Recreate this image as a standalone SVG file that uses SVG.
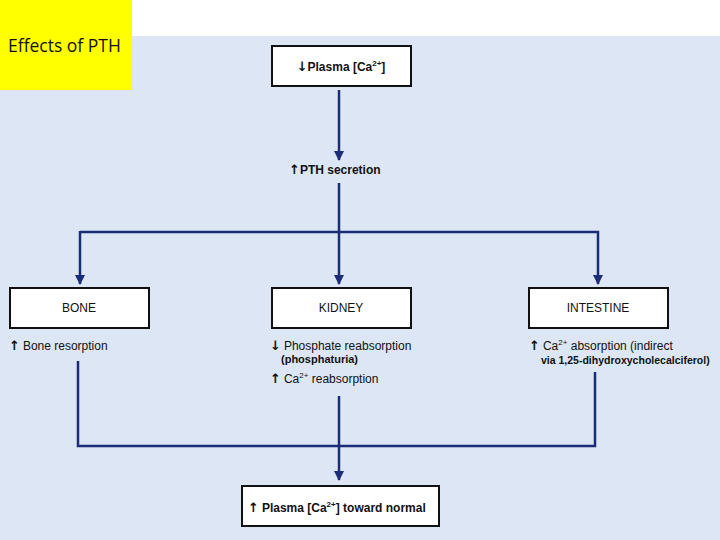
<svg xmlns="http://www.w3.org/2000/svg" width="720" height="540" viewBox="0 0 720 540">
<defs>
<style>
.box{fill:#ffffff;stroke:#111111;stroke-width:2}
.ln{fill:none;stroke:#1c2d78;stroke-width:2.5}
.t{font-family:"Liberation Sans",Arial,sans-serif;font-size:12px;fill:#111111}
.b{font-weight:bold}
.ar{font-family:"DejaVu Sans",sans-serif;font-size:13px;font-weight:bold}
.title{font-family:"Open Sans","Liberation Sans",sans-serif;font-size:17.5px;fill:#111111}
</style>
<marker id="ah" viewBox="0 0 10 10" refX="9" refY="5" markerWidth="4" markerHeight="4" orient="auto" markerUnits="strokeWidth">
<path d="M0,0 L10,5 L0,10 z" fill="#1c2d78"/>
</marker>
</defs>
<rect x="0" y="0" width="720" height="540" fill="#ffffff"/>
<rect x="0" y="36" width="720" height="504" fill="#dde6f4"/>
<g id="title">
<rect x="0" y="0" width="132" height="90" fill="#ffff00"/>
<text class="title" x="8" y="52">Effects of PTH</text>
</g>
<g id="connectors">
<line class="ln" x1="339" y1="90" x2="339" y2="160" marker-end="url(#ah)"/>
<line class="ln" x1="339" y1="183" x2="339" y2="232"/>
<polyline class="ln" points="80,232 598,232 598,284" marker-end="url(#ah)"/>
<line class="ln" x1="80" y1="231" x2="80" y2="284" marker-end="url(#ah)"/>
<line class="ln" x1="339" y1="232" x2="339" y2="284" marker-end="url(#ah)"/>
<polyline class="ln" points="78,361 78,446 595,446 595,372"/>
<line class="ln" x1="339" y1="396" x2="339" y2="480" marker-end="url(#ah)"/>
</g>
<g id="plasma-low">
<rect class="box" x="272" y="46" width="139" height="40"/>
<text class="t b" x="341" y="71" text-anchor="middle"><tspan class="ar">↓</tspan>Plasma [Ca<tspan style="font-size:8px" dy="-5">2+</tspan><tspan dy="5">]</tspan></text>
</g>
<g id="pth">
<text class="t b" x="289" y="174"><tspan class="ar">↑</tspan>PTH secretion</text>
</g>
<g id="bone">
<rect class="box" x="10" y="288" width="139" height="40"/>
<text class="t" x="79" y="312" text-anchor="middle">BONE</text>
<text class="t" x="9" y="350"><tspan class="ar">↑</tspan><tspan dx="3">Bone resorption</tspan></text>
</g>
<g id="kidney">
<rect class="box" x="272" y="288" width="139" height="40"/>
<text class="t" x="341" y="312" text-anchor="middle">KIDNEY</text>
<text class="t" x="270" y="350"><tspan class="ar">↓</tspan><tspan dx="3">Phosphate reabsorption</tspan></text>
<text class="t b" x="281" y="363" style="font-size:11px">(phosphaturia)</text>
<text class="t" x="270" y="383"><tspan class="ar">↑</tspan><tspan dx="3">Ca</tspan><tspan style="font-size:8px" dy="-5">2+</tspan><tspan dy="5"> reabsorption</tspan></text>
</g>
<g id="intestine">
<rect class="box" x="529" y="288" width="139" height="40"/>
<text class="t" x="598" y="312" text-anchor="middle">INTESTINE</text>
<text class="t" x="529" y="350"><tspan class="ar">↑</tspan><tspan dx="3">Ca</tspan><tspan style="font-size:8px" dy="-5">2+</tspan><tspan dy="5"> absorption (indirect</tspan></text>
<text class="t b" x="541" y="364" style="font-size:10.5px">via 1,25-dihydroxycholecalciferol)</text>
</g>
<g id="plasma-normal">
<rect class="box" x="242" y="486" width="197" height="40"/>
<text class="t b" x="248" y="512"><tspan class="ar">↑</tspan><tspan dx="3">Plasma [Ca</tspan><tspan style="font-size:8px" dy="-5">2+</tspan><tspan dy="5">] toward normal</tspan></text>
</g>
</svg>
